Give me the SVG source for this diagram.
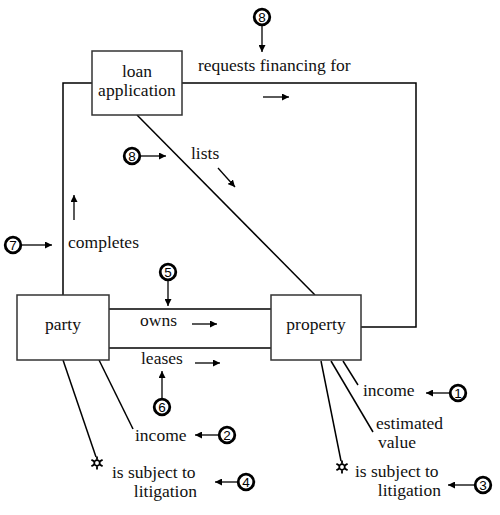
<svg xmlns="http://www.w3.org/2000/svg" width="500" height="515" viewBox="0 0 500 515">
<style>
.box{fill:#fff;stroke:#333;stroke-width:1.5}
.ln{fill:none;stroke:#000;stroke-width:1.5}
.ar{fill:none;stroke:#000;stroke-width:1.3;marker-end:url(#ah)}
.t text{font-family:"Liberation Serif","Times New Roman",Tinos,Times,"DejaVu Serif",serif;font-size:17.5px;fill:#111}
.num circle{fill:#fff;stroke:#000;stroke-width:2.8}
.num text{font-family:"Liberation Sans",Arial,sans-serif;font-size:13.5px;text-anchor:middle;fill:#000}
.sun{fill:none;stroke:#000;stroke-width:1.8}
</style>
<defs>
<marker id="ah" viewBox="0 0 10 10" refX="10" refY="5" markerWidth="7" markerHeight="7" markerUnits="userSpaceOnUse" orient="auto">
<path d="M0,0 L10,5 L0,10 z" fill="#000"/>
</marker>
</defs>
<rect width="500" height="515" fill="#fff"/>
<g id="connectors">
<polyline class="ln" points="92,83 63,83 63,295"/>
<polyline class="ln" points="182,83 416,83 416,327 361,327"/>
<line class="ln" x1="137" y1="115" x2="315" y2="295"/>
<line class="ln" x1="109" y1="309" x2="271" y2="309"/>
<line class="ln" x1="109" y1="348" x2="271" y2="348"/>
<line class="ln" x1="63" y1="360" x2="96" y2="457"/>
<line class="ln" x1="99" y1="360" x2="133" y2="429"/>
<line class="ln" x1="343" y1="361" x2="358" y2="385"/>
<line class="ln" x1="331" y1="361" x2="373" y2="432"/>
<line class="ln" x1="321" y1="361" x2="341" y2="461"/>
</g>
<g id="loan-application" class="t">
<rect class="box" x="92" y="51" width="90" height="64"/>
<text x="137" y="77" text-anchor="middle">loan</text>
<text x="137" y="96" text-anchor="middle">application</text>
</g>
<g id="party" class="t">
<rect class="box" x="17" y="295" width="92" height="65"/>
<text x="63" y="330" text-anchor="middle">party</text>
</g>
<g id="property" class="t">
<rect class="box" x="271" y="295" width="90" height="65"/>
<text x="316" y="330" text-anchor="middle">property</text>
</g>
<g id="labels" class="t">
<text x="198" y="71">requests financing for</text>
<line class="ar" x1="263" y1="97" x2="289" y2="97"/>
<text x="191" y="159">lists</text>
<line class="ar" x1="218" y1="168" x2="235" y2="187"/>
<text x="68" y="248">completes</text>
<line class="ar" x1="74" y1="220" x2="74" y2="195"/>
<text x="140" y="326">owns</text>
<line class="ar" x1="192" y1="324" x2="217" y2="324"/>
<text x="141" y="364">leases</text>
<line class="ar" x1="195" y1="363" x2="220" y2="363"/>
<text x="135" y="441">income</text>
<text x="112" y="478">is subject to</text>
<text x="197" y="497" text-anchor="end">litigation</text>
<text x="363" y="396">income</text>
<text x="376" y="429">estimated</text>
<text x="378" y="448">value</text>
<text x="355" y="477">is subject to</text>
<text x="441" y="496" text-anchor="end">litigation</text>
</g>
<g id="suns" class="sun">
<g transform="translate(97,463)">
<circle r="2.8"/>
<path d="M0,-3.2 V-6.5 M0,3.2 V6.5 M2.8,-1.6 L5.6,-3.2 M-2.8,-1.6 L-5.6,-3.2 M2.8,1.6 L5.6,3.2 M-2.8,1.6 L-5.6,3.2"/>
</g>
<g transform="translate(342,467)">
<circle r="2.8"/>
<path d="M0,-3.2 V-6.5 M0,3.2 V6.5 M2.8,-1.6 L5.6,-3.2 M-2.8,-1.6 L-5.6,-3.2 M2.8,1.6 L5.6,3.2 M-2.8,1.6 L-5.6,3.2"/>
</g>
</g>
<g id="callouts">
<g class="num"><circle cx="262" cy="17" r="7.8"/><text x="262" y="21.8">8</text></g>
<line class="ar" x1="262" y1="25" x2="262" y2="52"/>
<g class="num"><circle cx="132" cy="156" r="7.8"/><text x="132" y="160.8">8</text></g>
<line class="ar" x1="140" y1="156" x2="166" y2="156"/>
<g class="num"><circle cx="13" cy="245" r="7.8"/><text x="13" y="249.8">7</text></g>
<line class="ar" x1="21" y1="245" x2="52" y2="245"/>
<g class="num"><circle cx="168" cy="272" r="7.8"/><text x="168" y="276.8">5</text></g>
<line class="ar" x1="168" y1="280" x2="168" y2="306"/>
<g class="num"><circle cx="162" cy="407" r="7.8"/><text x="162" y="411.8">6</text></g>
<line class="ar" x1="162" y1="399" x2="162" y2="371"/>
<g class="num"><circle cx="227" cy="435" r="7.8"/><text x="227" y="439.8">2</text></g>
<line class="ar" x1="219" y1="435" x2="195" y2="435"/>
<g class="num"><circle cx="246" cy="482" r="7.8"/><text x="246" y="486.8">4</text></g>
<line class="ar" x1="238" y1="482" x2="215" y2="482"/>
<g class="num"><circle cx="458" cy="393" r="7.8"/><text x="458" y="397.8">1</text></g>
<line class="ar" x1="450" y1="393" x2="426" y2="393"/>
<g class="num"><circle cx="483" cy="485" r="7.8"/><text x="483" y="489.8">3</text></g>
<line class="ar" x1="475" y1="485" x2="448" y2="485"/>
</g>
</svg>
